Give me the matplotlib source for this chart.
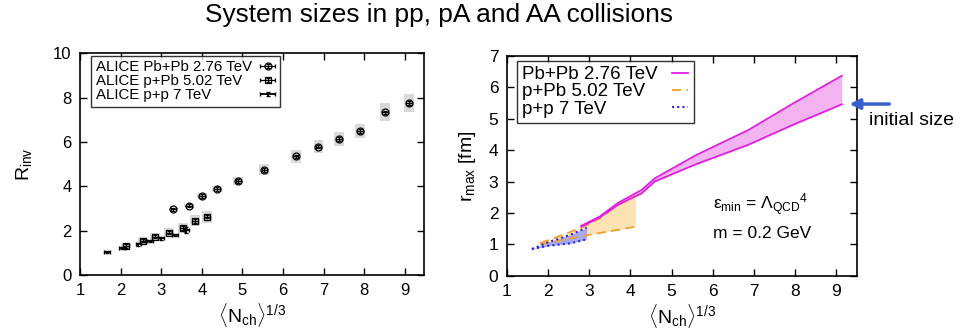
import numpy as np
import matplotlib.pyplot as plt
from matplotlib.patches import Rectangle
from matplotlib.legend_handler import HandlerErrorbar
from matplotlib.container import ErrorbarContainer

plt.rcParams['font.family'] = ['Liberation Sans', 'DejaVu Sans']
plt.rcParams['mathtext.fontset'] = 'custom'
plt.rcParams['mathtext.rm'] = 'Liberation Sans'
plt.rcParams['mathtext.it'] = 'Liberation Sans'
plt.rcParams['xtick.direction'] = 'in'
plt.rcParams['ytick.direction'] = 'in'
plt.rcParams['xtick.top'] = True
plt.rcParams['ytick.right'] = True

# ALICE HBT radii
pbpb_x = [3.30, 3.68, 4.00, 4.37, 4.90, 5.54, 6.31, 6.87, 7.37, 7.89, 8.51, 9.10]
pbpb_y = [2.96, 3.13, 3.56, 3.88, 4.24, 4.74, 5.35, 5.79, 6.14, 6.50, 7.34, 7.76]
pbpb_sys = [0.05, 0.08, 0.12, 0.15, 0.2, 0.25, 0.3, 0.3, 0.3, 0.3, 0.4, 0.42]

ppb_x = [2.13, 2.54, 2.85, 3.20, 3.54, 3.84, 4.13]
ppb_y = [1.32, 1.55, 1.73, 1.91, 2.13, 2.44, 2.63]
ppb_sys = [0.12, 0.15, 0.17, 0.2, 0.22, 0.25, 0.27]

pp_x = [1.66, 2.04, 2.44, 2.72, 2.99, 3.34, 3.62]
pp_y = [1.05, 1.23, 1.38, 1.53, 1.66, 1.80, 2.03]
pp_yerr = [0.04, 0.05, 0.05, 0.05, 0.06, 0.06, 0.15]

# model bands for r_max
pbpb_bx = [2.81, 3.25, 3.70, 4.27, 4.59, 5.59, 6.86, 7.95, 9.13]
pbpb_hi = [1.59, 1.88, 2.32, 2.73, 3.10, 3.84, 4.64, 5.49, 6.37]
pbpb_lo = [1.56, 1.85, 2.26, 2.62, 3.00, 3.55, 4.17, 4.81, 5.46]

ppb_bx = [1.81, 2.40, 2.90, 3.30, 3.70, 4.12]
ppb_hi = [1.04, 1.32, 1.58, 1.86, 2.27, 2.54]
ppb_lo = [1.00, 1.15, 1.28, 1.37, 1.46, 1.56]

pp_bx = [1.61, 2.00, 2.54, 2.94]
pp_hi = [0.85, 1.06, 1.30, 1.53]
pp_lo = [0.85, 0.95, 1.03, 1.16]


def left_align(fig, leg):
    # gnuplot-style key: labels flush left, samples flush right
    fig.canvas.draw()
    r = fig.canvas.get_renderer()
    for col in leg._legend_handle_box.get_children():
        rows = col.get_children()
        w = max(row.get_bbox(r).width for row in rows)
        for row in rows:
            row.width = w
            row.mode = 'expand'


fig = plt.figure(figsize=(9.61, 3.34), dpi=100)
fig.text(0.457, 0.955, 'System sizes in pp, pA and AA collisions', ha='center', va='center', fontsize=18.9)

xlab = r'$\langle$N$_{\rm ch}\rangle^{1/3}$'

# ---- left: measured radii
ax1 = fig.add_axes([0.0832, 0.1766, 0.358, 0.6638])
for xs, ys, ss in [(pbpb_x, pbpb_y, pbpb_sys), (ppb_x, ppb_y, ppb_sys)]:
    for x, y, s in zip(xs, ys, ss):
        ax1.add_patch(Rectangle((x - 0.12, y - s), 0.24, 2 * s, facecolor='#d9d9d9', edgecolor='none', zorder=1))
ax1.errorbar(pbpb_x, pbpb_y, xerr=0.07, yerr=0.08, fmt='o', ms=5, mfc='none', mec='black', ecolor='black',
             elinewidth=0.9, capsize=1.5, mew=0.9, color='black', label='ALICE Pb+Pb 2.76 TeV', zorder=3)
ax1.errorbar(ppb_x, ppb_y, xerr=0.07, yerr=0.08, fmt='s', ms=5, mfc='none', mec='black', ecolor='black',
             elinewidth=0.9, capsize=1.5, mew=0.9, color='black', label='ALICE p+Pb 5.02 TeV', zorder=3)
ax1.errorbar(pp_x, pp_y, xerr=0.07, yerr=pp_yerr, fmt='none', ecolor='black', elinewidth=1.3,
             capsize=1.5, label='ALICE p+p 7 TeV', zorder=3)
ax1.set_xlim(1, 9.47)
ax1.set_ylim(0, 10)
ax1.set_xticks(range(1, 10))
ax1.set_yticks(range(0, 11, 2))
ax1.set_xlabel(xlab, fontsize=14, labelpad=2)
ax1.set_ylabel(r'R$_{\rm inv}$', fontsize=14, labelpad=14)
ax1.tick_params(labelsize=12, length=5, width=1, pad=6)
leg1 = ax1.legend(loc='upper left', bbox_to_anchor=(0.033, 0.99), markerfirst=False, frameon=True,
                  fancybox=False, edgecolor='black', fontsize=10.8, handlelength=1.1, handletextpad=0.5,
                  borderpad=0.3, borderaxespad=0, labelspacing=0.0,
                  handler_map={ErrorbarContainer: HandlerErrorbar(xerr_size=0.5, yerr_size=0.12)})
leg1.get_frame().set_linewidth(1.0)

# ---- right: model r_max
ax2 = fig.add_axes([0.5273, 0.1746, 0.3645, 0.6577])
ax2.fill_between(pbpb_bx, pbpb_lo, pbpb_hi, color='#f2b3f0', lw=0, zorder=1)
ax2.fill_between(ppb_bx, ppb_lo, ppb_hi, color='#fde2b4', lw=0, zorder=1)
ax2.fill_between(pp_bx, pp_lo, pp_hi, color='#a8a8f2', lw=0, zorder=2)
ax2.plot(pbpb_bx, pbpb_hi, color='#e020e0', lw=1.3, zorder=4, label='Pb+Pb 2.76 TeV')
ax2.plot(pbpb_bx, pbpb_lo, color='#e020e0', lw=1.3, zorder=4)
ax2.plot(ppb_bx, ppb_hi, color='#f0a030', lw=1.3, ls=(0, (5, 3)), zorder=3, label='p+Pb 5.02 TeV')
ax2.plot(ppb_bx, ppb_lo, color='#f0a030', lw=1.3, ls=(0, (5, 3)), zorder=3)
ax2.plot(pp_bx, pp_hi, color='#2a2ae0', lw=1.5, ls=(0, (1, 1.5)), zorder=3, label='p+p 7 TeV')
ax2.plot(pp_bx, pp_lo, color='#2a2ae0', lw=1.5, ls=(0, (1, 1.5)), zorder=3)
ax2.set_xlim(1, 9.5)
ax2.set_ylim(0, 7)
ax2.set_xticks(range(1, 10))
ax2.set_yticks(range(0, 8))
ax2.set_xlabel(xlab, fontsize=14, labelpad=2)
ax2.set_ylabel(r'r$_{\rm max}$ [fm]', fontsize=14, labelpad=8)
ax2.tick_params(labelsize=12.5, length=5, width=1, pad=6)
leg2 = ax2.legend(loc='upper left', bbox_to_anchor=(0.0285, 0.979), markerfirst=False, frameon=True,
                  fancybox=False, edgecolor='black', fontsize=13.5, handlelength=0.85, handletextpad=0.75,
                  borderpad=0.3, borderaxespad=0, labelspacing=0.0)
leg2.get_frame().set_linewidth(1.0)

ax2.text(6.0, 2.25, r'$\varepsilon_{\rm min}$ = $\Lambda_{\rm QCD}{}^{4}$', fontsize=12.5, va='center')
ax2.text(6.0, 1.35, 'm = 0.2 GeV', fontsize=12.5, va='center')

ax2.annotate('', xy=(9.25, 5.47), xytext=(10.35, 5.47), annotation_clip=False,
             arrowprops=dict(arrowstyle='-|>,head_length=0.6,head_width=0.3', color='#3a60d0', lw=2.5))
ax2.text(9.78, 4.95, 'initial size', fontsize=14, va='center', ha='left', clip_on=False)

for ax in (ax1, ax2):
    for sp in ax.spines.values():
        sp.set_linewidth(1.2)

left_align(fig, leg1)
left_align(fig, leg2)

plt.savefig('out.png', dpi=100)
